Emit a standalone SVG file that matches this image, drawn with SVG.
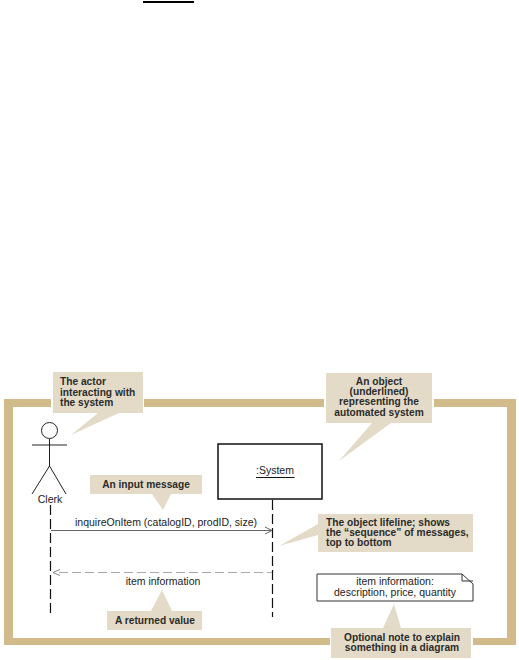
<svg xmlns="http://www.w3.org/2000/svg" width="519" height="660" viewBox="0 0 519 660">
<style>
text{font-family:"Liberation Sans",Arial,sans-serif;fill:#222}
.c{font-size:10.2px;font-weight:bold;fill:#2b2b2b}
.m{font-size:10.5px}
.b{fill:#e3dbc8}
.l{stroke:#222;stroke-width:1;fill:none}
.d{stroke:#111;stroke-width:1.2;stroke-dasharray:10 4;fill:none}
</style>
<rect width="519" height="660" fill="#fff"/>
<rect x="143" y="1" width="51" height="2" fill="#000"/>
<g id="frame">
<path d="M4 399H516V645H4Z M13 407V638H507V407Z" fill="#d2bb8a" fill-rule="evenodd"/>
<rect x="51" y="395" width="93" height="16" fill="#fff"/>
<rect x="324" y="395" width="110" height="16" fill="#fff"/>
<rect x="330" y="634" width="143" height="14" fill="#fff"/>
</g>
<g id="connectors">
<path class="d" d="M50.500 505V614"/>
<path class="d" d="M272.500 500V617"/>
<path d="M51 530.500H272M265 527L272 530.500L265 534" fill="none" stroke="#666" stroke-width="1"/>
<path d="M59 572.500H272" fill="none" stroke="#aaa" stroke-width="1.200" stroke-dasharray="9 4"/>
<path d="M60 569.500L53 572.500L60 575.500" fill="none" stroke="#888" stroke-width="1"/>
</g>
<g id="actor-clerk">
<circle cx="49.500" cy="430.500" r="8" class="l"/>
<path class="l" d="M49.500 439V466L32 494M49.500 466L66 494M32 445H67"/>
<text x="50" y="503" text-anchor="middle" class="m">Clerk</text>
</g>
<g id="object-system">
<rect x="218" y="444" width="104" height="55" fill="#fff" stroke="#111" stroke-width="1.500"/>
<text x="275" y="474" text-anchor="middle" class="m">:System</text>
<path d="M256 477.500H294.500" stroke="#111" stroke-width="1"/>
</g>
<g id="note-item">
<path d="M317 574H462L473 584V601H317Z" fill="#fff" stroke="#333" stroke-width="1"/>
<path d="M462 574V581H473" fill="none" stroke="#333" stroke-width="1"/>
<text x="395" y="585" text-anchor="middle" class="m">item information:</text>
<text x="395" y="596" text-anchor="middle" class="m">description, price, quantity</text>
</g>
<g id="msg-inquire">
<text x="166" y="526" text-anchor="middle" class="m">inquireOnItem (catalogID, prodID, size)</text>
</g>
<g id="msg-return">
<text x="163" y="585" text-anchor="middle" class="m">item information</text>
</g>
<g id="callout-actor">
<path class="b" d="M53 372H143V413H119L71 435L98 413H53Z"/>
<text class="c" x="60" y="385">The actor</text>
<text class="c" x="60" y="396">interacting with</text>
<text class="c" x="60" y="406">the system</text>
</g>
<g id="callout-input">
<path class="b" d="M90 475H202V494H171L163 510L152 494H90Z"/>
<text class="c" x="146" y="488" text-anchor="middle">An input message</text>
</g>
<g id="callout-object">
<path class="b" d="M326 373H432V423H391L339 461L372 423H326Z"/>
<text class="c" x="379" y="385" text-anchor="middle">An object</text>
<text class="c" x="379" y="395" text-anchor="middle">(underlined)</text>
<text class="c" x="379" y="405" text-anchor="middle">representing the</text>
<text class="c" x="379" y="416" text-anchor="middle">automated system</text>
</g>
<g id="callout-lifeline">
<path class="b" d="M318 514H473V552H318V535L279 546L318 524Z"/>
<text class="c" x="326" y="526">The object lifeline; shows</text>
<text class="c" x="326" y="536">the “sequence” of messages,</text>
<text class="c" x="326" y="546">top to bottom</text>
</g>
<g id="callout-return">
<path class="b" d="M107 611H151L162 590L172 611H202V630H107Z"/>
<text class="c" x="155" y="624" text-anchor="middle">A returned value</text>
</g>
<g id="callout-note">
<path class="b" d="M331 628H383L394 604L401 628H471V658H331Z"/>
<text class="c" x="402" y="641" text-anchor="middle">Optional note to explain</text>
<text class="c" x="402" y="651" text-anchor="middle">something in a diagram</text>
</g>
</svg>
